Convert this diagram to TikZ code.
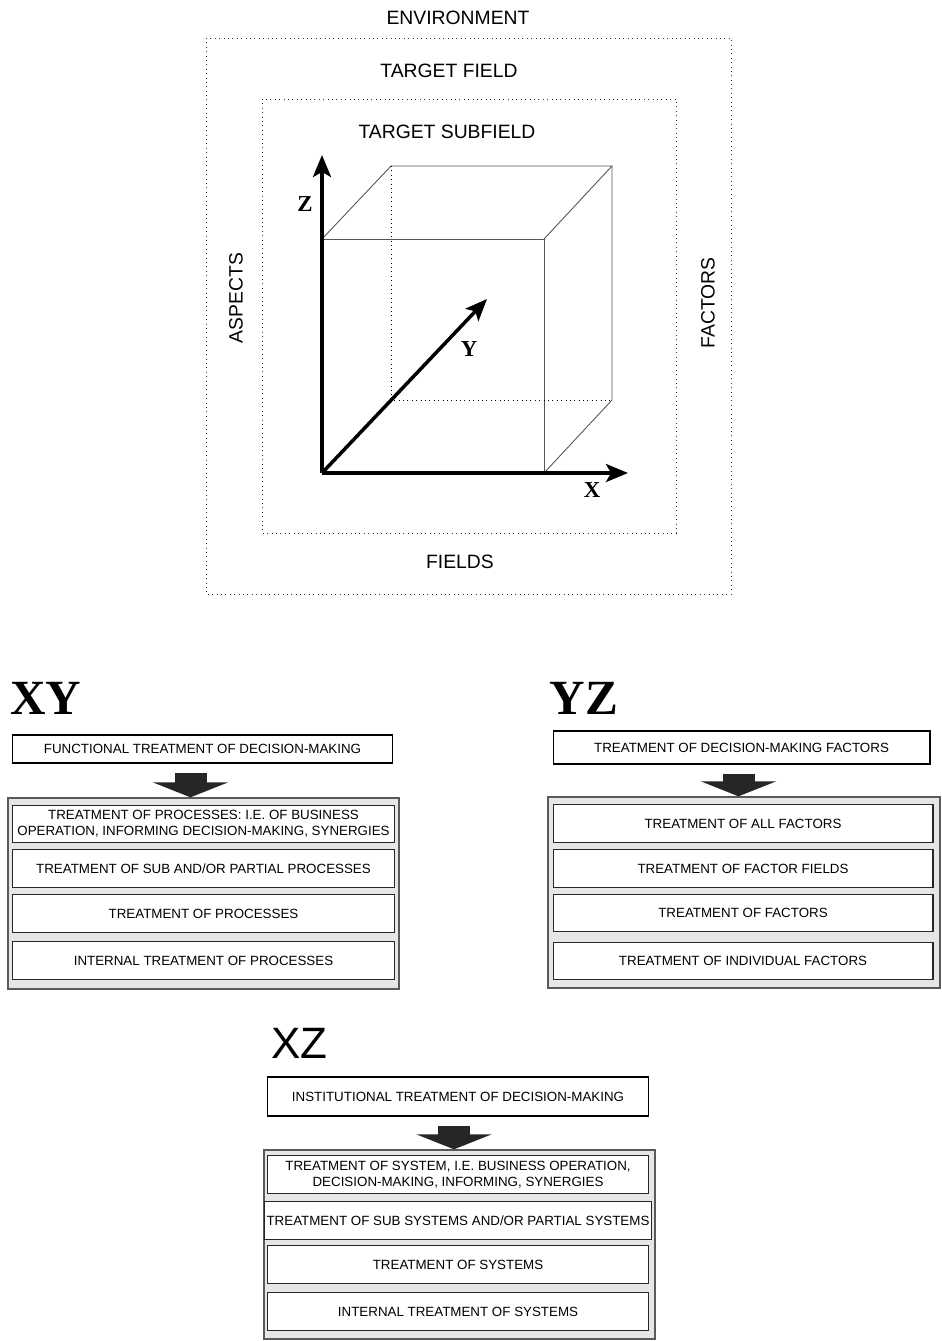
\documentclass[tikz,border=0pt]{standalone}
\usepackage{fontspec}
\setmainfont{Liberation Sans}
\newfontfamily\timesfont{Liberation Serif}
\usetikzlibrary{arrows.meta, positioning, calc}
\definecolor{inkframe}{HTML}{5A5A5A}
\definecolor{inkfill}{HTML}{E6E6E6}
\definecolor{inkedge}{HTML}{555555}
\definecolor{inkarrow}{HTML}{262626}
\tikzset{
  fieldline/.style={dotted, line width=0.5pt, black!80},
  areatext/.style={font=\fontsize{11}{13}\selectfont},
  axis/.style={line width=2pt, -{Stealth[length=0.44cm, width=0.36cm, inset=0.1cm]}},
  cubeedge/.style={line width=0.5pt, inkedge},
  hidden/.style={dotted, line width=0.5pt},
  axislabel/.style={font=\timesfont\bfseries\fontsize{13}{15}\selectfont},
  planelabel/.style={font=\timesfont\bfseries\fontsize{28}{30}\selectfont, inner sep=0pt},
  headbox/.style={draw=black, line width=0.6pt, fill=white, align=center,
    inner sep=1pt, font=\fontsize{7.6}{9}\selectfont},
  rowbox/.style={draw=black!85, line width=0.6pt, fill=white, align=center,
    inner sep=1pt, minimum height=0.75cm, font=\fontsize{7.6}{9}\selectfont},
  panelframe/.style={draw=inkframe, line width=0.8pt, fill=inkfill},
  fatarrow/.style={inkarrow, line width=0.64cm, shorten <=0.18cm,
    -{Triangle[width=1.5cm, length=0.3cm]}},
}
\newcommand{\panelrow}[4]{%
  \node[rowbox, minimum width=#2] (#1) at (#3) {#4};}

\begin{document}
\begin{tikzpicture}[x=0.02cm, y=-0.02cm]
  \useasboundingbox (0,0) rectangle (941,1341);

  % fields around the cube
  \draw[fieldline] (206,38) rectangle (731,594);
  \draw[fieldline] (262,99) rectangle (676,533);
  \node[areatext] (env) at (458,18) {ENVIRONMENT};
  \node[areatext] (target) at (449,71) {TARGET FIELD};
  \node[areatext] (subfield) at (447,132) {TARGET SUBFIELD};
  \node[areatext] (fields) at (460,562) {FIELDS};
  \node[areatext, rotate=90] (aspects) at (236,298) {ASPECTS};
  \node[areatext, rotate=90] (factors) at (708,303) {FACTORS};

  % cube
  \coordinate (o) at (322,473);
  \coordinate (ztip) at (322,155);
  \coordinate (xtip) at (628,473);
  \coordinate (ytip) at (487,299);
  \coordinate (f1) at (544,473);
  \coordinate (f2) at (544,239);
  \coordinate (f3) at (322,239);
  \coordinate (b0) at (391,400);
  \coordinate (b1) at (612,400);
  \coordinate (b2) at (612,166);
  \coordinate (b3) at (391,166);
  \draw[cubeedge] (f3) -- (f2) -- (f1);
  \draw[cubeedge] (f3) -- (b3) -- (b2) -- (f2);
  \draw[cubeedge] (b2) -- (b1) -- (f1);
  \draw[hidden] (b3) -- (b0) -- (b1);
  \draw[axis] (o) -- (ztip);
  \draw[axis] (o) -- (xtip);
  \draw[axis] (o) -- (ytip);
  \node[axislabel] (zlab) at (305,204) {Z};
  \node[axislabel] (ylab) at (469,349) {Y};
  \node[axislabel] (xlab) at (592,490) {X};

  % XY plane
  \node[planelabel] (xylab) at (46,698) {XY};
  \node[headbox, minimum width=7.62cm, minimum height=0.56cm] (xyhead) at (202.5,749)
    {FUNCTIONAL TREATMENT OF DECISION-MAKING};
  \node[panelframe, minimum width=7.82cm, minimum height=3.82cm] (xyframe) at (203.5,893.5) {};
  \panelrow{xy1}{7.66cm}{203.5,824}{TREATMENT OF PROCESSES: I.E. OF BUSINESS\\
    OPERATION, INFORMING DECISION-MAKING, SYNERGIES}
  \panelrow{xy2}{7.66cm}{203.5,868.5}{TREATMENT OF SUB AND/OR PARTIAL PROCESSES}
  \panelrow{xy3}{7.66cm}{203.5,913.5}{TREATMENT OF PROCESSES}
  \panelrow{xy4}{7.66cm}{203.5,960.5}{INTERNAL TREATMENT OF PROCESSES}
  \draw[fatarrow] ($(xyhead.south)+(-12,0)$) -- ($(xyhead.south|-xyframe.north)+(-12,0)$);

  % YZ plane
  \node[planelabel] (yzlab) at (584,698) {YZ};
  \node[headbox, minimum width=7.54cm, minimum height=0.66cm] (yzhead) at (741.5,747.5)
    {TREATMENT OF DECISION-MAKING FACTORS};
  \node[panelframe, minimum width=7.84cm, minimum height=3.82cm] (yzframe) at (744,892.5) {};
  \panelrow{yz1}{7.6cm}{743,823.5}{TREATMENT OF ALL FACTORS}
  \panelrow{yz2}{7.6cm}{743,868.5}{TREATMENT OF FACTOR FIELDS}
  \panelrow{yz3}{7.6cm}{743,913}{TREATMENT OF FACTORS}
  \panelrow{yz4}{7.6cm}{743,961}{TREATMENT OF INDIVIDUAL FACTORS}
  \draw[fatarrow] ($(yzhead.south)+(-3,0)$) -- ($(yzhead.south|-yzframe.north)+(-3,0)$);

  % XZ plane
  \node[font=\fontsize{25}{27}\selectfont, inner sep=0pt] (xzlab) at (299.5,1043) {XZ};
  \node[headbox, minimum width=7.64cm, minimum height=0.78cm] (xzhead) at (458,1096.5)
    {INSTITUTIONAL TREATMENT OF DECISION-MAKING};
  \node[panelframe, minimum width=7.82cm, minimum height=3.78cm] (xzframe) at (459.5,1244.5) {};
  \panelrow{xz1}{7.64cm}{458,1174.5}{TREATMENT OF SYSTEM, I.E. BUSINESS OPERATION,\\
    DECISION-MAKING, INFORMING, SYNERGIES}
  \panelrow{xz2}{7.64cm}{458,1220.5}{TREATMENT OF SUB SYSTEMS AND/OR PARTIAL SYSTEMS}
  \panelrow{xz3}{7.64cm}{458,1264.5}{TREATMENT OF SYSTEMS}
  \panelrow{xz4}{7.64cm}{458,1311.5}{INTERNAL TREATMENT OF SYSTEMS}
  \draw[fatarrow] ($(xzhead.south)+(-4,0)$) -- ($(xzhead.south|-xzframe.north)+(-4,0)$);
\end{tikzpicture}
\end{document}
